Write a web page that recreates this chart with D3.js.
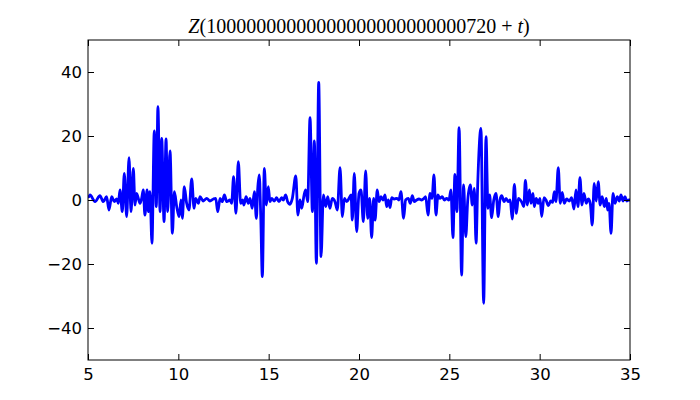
<!DOCTYPE html>
<html>
<head>
  <meta charset="utf-8">
  <script src="https://d3js.org/d3.v7.min.js"></script>
  <style>
    body { margin: 0; background: #fff; }
    .tick text { font-family: "DejaVu Sans", sans-serif; font-size: 16.5px; fill: #000; }
  </style>
</head>
<body>
  <svg width="700" height="400"></svg>

  <script>
    // samples of Z(t)
    const tVals = [5.0, 5.06, 5.11, 5.39, 5.66, 5.85, 6.03, 6.16, 6.31, 6.46, 6.59, 6.68, 6.77, 6.90, 7.01, 7.14, 7.27, 7.38, 7.51, 7.60,
      7.69, 7.88, 7.97, 8.06, 8.15, 8.27, 8.34, 8.43, 8.54, 8.67, 8.78, 8.87, 8.99, 9.08, 9.21, 9.32, 9.41, 9.54, 9.67, 9.78,
      9.91, 10.04, 10.15, 10.22, 10.33, 10.46, 10.59, 10.74, 10.87, 10.96, 11.11, 11.20, 11.38, 11.57, 11.75, 11.94, 12.07, 12.18, 12.31, 12.43,
      12.55, 12.68, 12.86, 12.95, 13.06, 13.19, 13.32, 13.45, 13.56, 13.63, 13.75, 13.87, 13.97, 14.09, 14.21, 14.32, 14.39, 14.48, 14.56, 14.65,
      14.76, 14.87, 14.98, 15.07, 15.17, 15.31, 15.44, 15.57, 15.72, 15.81, 15.94, 16.05, 16.18, 16.31, 16.50, 16.62, 16.73, 16.83, 16.96, 17.05,
      17.16, 17.29, 17.42, 17.53, 17.64, 17.77, 17.90, 18.03, 18.16, 18.27, 18.39, 18.52, 18.67, 18.80, 18.95, 19.08, 19.19, 19.32, 19.45, 19.56,
      19.63, 19.74, 19.87, 20.00, 20.11, 20.24, 20.37, 20.48, 20.59, 20.70, 20.81, 20.89, 21.01, 21.11, 21.22, 21.34, 21.44, 21.53, 21.62, 21.72,
      21.81, 21.95, 22.09, 22.21, 22.32, 22.47, 22.58, 22.73, 22.84, 22.95, 23.06, 23.19, 23.32, 23.47, 23.60, 23.69, 23.82, 23.93, 24.04, 24.15,
      24.26, 24.37, 24.48, 24.61, 24.72, 24.85, 24.98, 25.09, 25.20, 25.31, 25.42, 25.54, 25.68, 25.79, 25.91, 26.02, 26.16, 26.27, 26.38, 26.48,
      26.57, 26.75, 26.90, 27.03, 27.14, 27.23, 27.34, 27.46, 27.58, 27.71, 27.80, 27.90, 28.03, 28.14, 28.26, 28.37, 28.48, 28.60, 28.71, 28.82,
      28.93, 29.04, 29.12, 29.21, 29.32, 29.43, 29.52, 29.63, 29.70, 29.81, 29.92, 30.02, 30.11, 30.24, 30.35, 30.48, 30.61, 30.72, 30.81, 30.90,
      31.03, 31.14, 31.25, 31.36, 31.49, 31.64, 31.77, 31.90, 32.01, 32.12, 32.23, 32.34, 32.45, 32.58, 32.69, 32.80, 32.91, 33.02, 33.13, 33.24,
      33.35, 33.46, 33.58, 33.69, 33.76, 33.84, 33.95, 34.06, 34.17, 34.30, 34.41, 34.50, 34.61, 34.72, 34.83, 34.94, 35.0];
    const zVals = [1.0, 1.04, 1.56, -0.52, 1.35, -0.52, 1.04, -3.13, 1.04, -0.52, 0.31, -1.04, 3.13, -3.65, 8.33, -5.21, 13.23, -3.65, 9.9, -1.56,
      2.08, -1.04, 0.52, 3.13, -4.69, 3.13, -3.65, 2.6, -13.54, 21.56, -2.08, 29.17, -3.65, 19.27, -6.77, 19.06, -3.65, 15.31, -10.42, 2.6,
      -2.08, -5.21, 0, -5.73, 4.17, -1.04, -3.13, 6.56, -2.6, 0.52, -1.04, 1.04, -0.31, 0.52, -0.31, 0.31, 0.52, -3.65, 0.52, -0.52,
      1.56, -0.52, 0, -1.04, 7.29, -4.17, 11.98, -1.04, 0, -1.56, 1.04, -1.04, 0.52, -2.6, 2.6, -5.73, 3.13, 7.81, -4.69, -23.96,
      9.9, -1.56, 4.17, -0.52, 0.52, -0.31, 0.73, -0.52, 0.73, 0, 1.56, -0.52, -1.35, 0.52, 7.5, -4.69, 0, -2.6, 1.56, 3.13,
      -0.52, 25.73, -3.65, 18.44, -19.79, 36.77, -17.71, 1.56, -2.08, 1.04, -2.6, 0.52, -0.52, -3.13, 10.1, -5.21, 0.52, -0.52, 0.52, 1.56,
      -6.25, 8.33, -9.9, 2.08, 3.13, -6.77, 9.06, -5.73, 0.52, -11.77, 0.52, -6.25, 3.13, -0.52, 1.04, 0, 1.56, -2.08, 0, -2.4,
      0.73, 0.31, 0.52, 0, 2.6, -5.73, 0, 0.52, -1.04, 1.35, -0.52, 0, 0.31, 0, 0.52, 1.04, -4.69, 2.08, 0.52, 7.81,
      -4.69, 1.56, 0.52, 1.04, 0, 0.52, 0, 3.13, -11.77, 8.02, -3.65, 22.6, -23.44, 4.69, -11.46, 0, 4.69, -1.56, 3.65, -13.54,
      4.69, 22.4, -32.29, 19.8, -2.6, 1.56, -5.52, 0, 2.08, -5.21, 0, 1.35, -0.52, 0.52, -0.52, 0, -5.94, 4.9, -4.17, 0.52,
      0, -1.04, -2.08, 6.15, -1.56, 3.13, -1.04, 2.08, -2.08, 0.52, -1.04, 0.52, -5.21, 0.73, 0, -1.77, -0.31, -0.73, 2.6, -0.52,
      10.1, -1.04, 2.4, -1.04, 0.31, -0.31, 0.73, -2.81, 3.13, -2.08, 6.98, -1.56, 2.08, -1.04, 0.31, -1.04, -7.81, 5.21, -0.31, 5.73,
      -1.56, 1.04, -2.08, 0.52, -3.13, -1.04, -10.42, 2.08, -1.04, 1.04, -0.31, 1.56, -0.31, 1.04, -0.31, 0, 0];
    const xTicks = [5, 10, 15, 20, 25, 30, 35];
    const yTicks = [-40, -20, 0, 20, 40];

    const svg = d3.select("svg");
    const mLeft = 88, mRight = 630, mTop = 40, mBottom = 360;

    const x = d3.scaleLinear().domain([5, 35]).range([mLeft, mRight]);
    const y = d3.scaleLinear().domain([-50, 50]).range([mBottom, mTop]);

    svg.append("clipPath").attr("id", "clip")
      .append("rect").attr("x", mLeft).attr("y", mTop)
      .attr("width", mRight - mLeft).attr("height", mBottom - mTop);

    const pts = tVals.map((t, i) => [t, zVals[i]]);
    const line = d3.line().x(d => x(d[0])).y(d => y(d[1])).curve(d3.curveMonotoneX);

    svg.append("path").datum(pts)
      .attr("clip-path", "url(#clip)")
      .attr("fill", "none").attr("stroke", "#0000ff")
      .attr("stroke-width", 2.8).attr("stroke-linejoin", "round")
      .attr("d", line);

    const fmt = d => d < 0 ? "\u2212" + Math.abs(d) : String(d);

    // ticks point inward, on all four sides
    svg.append("g").attr("transform", `translate(0,${mBottom})`)
      .call(d3.axisBottom(x).tickValues(xTicks).tickFormat(fmt).tickSizeInner(-6).tickSizeOuter(0).tickPadding(8))
      .call(g => g.select(".domain").remove());
    svg.append("g").attr("transform", `translate(0,${mTop})`)
      .call(d3.axisTop(x).tickValues(xTicks).tickFormat("").tickSizeInner(-6).tickSizeOuter(0))
      .call(g => g.select(".domain").remove());
    svg.append("g").attr("transform", `translate(${mLeft},0)`)
      .call(d3.axisLeft(y).tickValues(yTicks).tickFormat(fmt).tickSizeInner(-6).tickSizeOuter(0).tickPadding(6))
      .call(g => g.select(".domain").remove());
    svg.append("g").attr("transform", `translate(${mRight},0)`)
      .call(d3.axisRight(y).tickValues(yTicks).tickFormat("").tickSizeInner(-6).tickSizeOuter(0))
      .call(g => g.select(".domain").remove());

    svg.selectAll(".tick line").attr("stroke", "#000");

    svg.append("rect")
      .attr("x", mLeft).attr("y", mTop)
      .attr("width", mRight - mLeft).attr("height", mBottom - mTop)
      .attr("fill", "none").attr("stroke", "#000").attr("stroke-width", 1);

    const title = svg.append("text")
      .attr("x", (mLeft + mRight) / 2).attr("y", 33)
      .attr("text-anchor", "middle")
      .style("font-family", "'Liberation Serif', serif")
      .style("font-size", "20px");
    title.append("tspan").style("font-style", "italic").text("Z");
    title.append("tspan").text("(1" + "0".repeat(25) + "720 + ");
    title.append("tspan").style("font-style", "italic").text("t");
    title.append("tspan").text(")");
  </script>
</body>
</html>
